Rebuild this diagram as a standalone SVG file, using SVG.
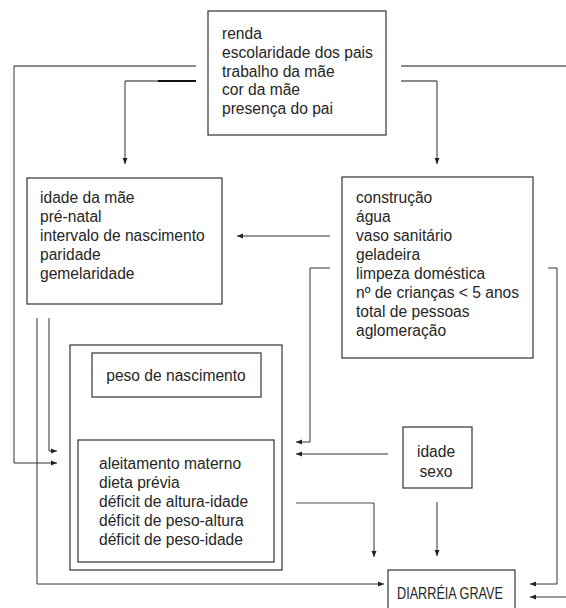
<svg xmlns="http://www.w3.org/2000/svg" width="566" height="608" viewBox="0 0 566 608">
<defs>
<marker id="ah" markerWidth="6" markerHeight="6" refX="6" refY="3" orient="auto" markerUnits="userSpaceOnUse">
<path d="M0,0.5 L6,3 L0,5.5 z" fill="#222"/>
</marker>
</defs>
<style>
.box{fill:#fff;stroke:#333;stroke-width:1.2}
.t{font-family:"Liberation Sans",Arial,sans-serif;font-size:15.6px;fill:#262626}
.c{fill:none;stroke:#333;stroke-width:1}
.g{fill:none;stroke:#8a8a8a;stroke-width:2}
.k{fill:none;stroke:#111;stroke-width:2.2}
</style>
<rect width="566" height="608" fill="#fff"/>

<g id="connectors">
<path class="g" d="M196,66 H14"/>
<path class="c" d="M14,66 V463 H57" marker-end="url(#ah)"/>
<path class="g" d="M158,81 H125"/>
<path class="k" d="M196,81 H158"/>
<path class="c" d="M125,81 V164" marker-end="url(#ah)"/>
<path class="g" d="M401,66 H566"/>
<path class="g" d="M401,81 H437"/>
<path class="c" d="M437,81 V164" marker-end="url(#ah)"/>
<path class="c" d="M330,236 H237" marker-end="url(#ah)"/>
<path class="c" d="M330,268 H310 V442 H296" marker-end="url(#ah)"/>
<path class="c" d="M548,268 H557 V584 H530" marker-end="url(#ah)"/>
<path class="c" d="M566,597 H530" marker-end="url(#ah)"/>
<path class="c" d="M37,318 V584 H384" marker-end="url(#ah)"/>
<path class="c" d="M49,318 V451 H57" marker-end="url(#ah)"/>
<path class="c" d="M176,411 V426" marker-end="url(#ah)"/>
<path class="c" d="M388,454 H296" marker-end="url(#ah)"/>
<path class="g" d="M296,503 H374" style="stroke-width:1.6"/>
<path class="c" d="M374,503 V557" marker-end="url(#ah)"/>
<path class="c" d="M437,502 V556" marker-end="url(#ah)"/>
</g>

<g id="n-socio">
<rect class="box" x="208" y="11" width="178" height="124"/>
<text class="t"><tspan x="222" y="39">renda</tspan><tspan x="222" y="58">escolaridade dos pais</tspan><tspan x="222" y="76.5">trabalho da mãe</tspan><tspan x="222" y="95">cor da mãe</tspan><tspan x="222" y="113.5">presença do pai</tspan></text>
</g>

<g id="n-materno">
<rect class="box" x="27" y="178" width="195" height="126"/>
<text class="t"><tspan x="40" y="203">idade da mãe</tspan><tspan x="40" y="222">pré-natal</tspan><tspan x="40" y="241">intervalo de nascimento</tspan><tspan x="40" y="260">paridade</tspan><tspan x="40" y="279">gemelaridade</tspan></text>
</g>

<g id="n-ambiente">
<rect class="box" x="342" y="177" width="191" height="181"/>
<text class="t"><tspan x="356" y="203">construção</tspan><tspan x="356" y="222">água</tspan><tspan x="356" y="241">vaso sanitário</tspan><tspan x="356" y="260">geladeira</tspan><tspan x="356" y="279">limpeza doméstica</tspan><tspan x="356" y="298">nº de crianças &lt; 5 anos</tspan><tspan x="356" y="317">total de pessoas</tspan><tspan x="356" y="336">aglomeração</tspan></text>
</g>

<g id="n-grupo">
<rect class="box" x="70" y="345" width="212" height="225"/>
</g>

<g id="n-peso">
<rect class="box" x="92" y="353" width="169" height="44"/>
<text class="t" x="176" y="381" text-anchor="middle">peso de nascimento</text>
</g>

<g id="n-nutricao">
<rect class="box" x="78" y="440" width="196" height="122"/>
<text class="t"><tspan x="99" y="469">aleitamento materno</tspan><tspan x="99" y="488">dieta prévia</tspan><tspan x="99" y="507">déficit de altura-idade</tspan><tspan x="99" y="526">déficit de peso-altura</tspan><tspan x="99" y="545">déficit de peso-idade</tspan></text>
</g>

<g id="n-idade">
<rect class="box" x="403" y="427" width="69" height="61"/>
<text class="t" text-anchor="middle"><tspan x="436" y="457">idade</tspan><tspan x="436" y="477">sexo</tspan></text>
</g>

<g id="n-diarreia">
<rect class="box" x="388" y="570" width="127" height="46"/>
<text class="t" x="397" y="599" style="font-size:16px" textLength="106" lengthAdjust="spacingAndGlyphs">DIARRÉIA GRAVE</text>
</g>
</svg>
